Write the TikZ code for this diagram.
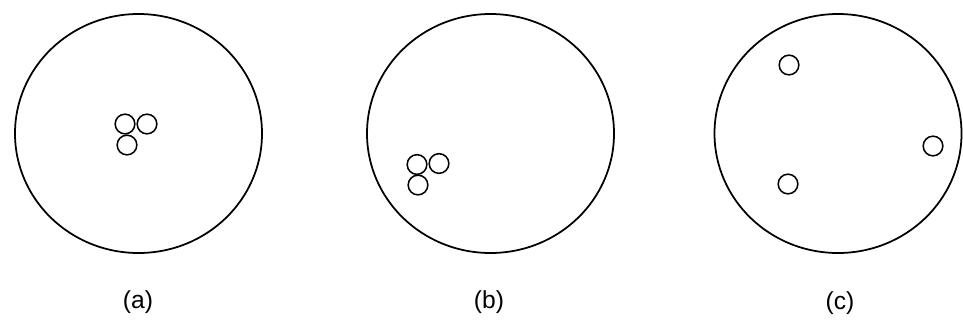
\documentclass[tikz,border=0pt]{standalone}
\usepackage{fontspec}
\setmainfont{Liberation Sans}
\usetikzlibrary{positioning, shapes.geometric}
\tikzset{
    dish/.style={ellipse, draw, line width=1.5pt, minimum width=74.1mm, minimum height=71.7mm, inner sep=0pt},
    bead/.style={circle, draw, line width=1.3pt, minimum size=5.9mm, inner sep=0pt},
    caption/.style={font=\fontsize{21}{24}\selectfont, inner sep=0pt}
}

\begin{document}
\begin{tikzpicture}[x=0.3mm, y=-0.3mm]
    \useasboundingbox (0,0) rectangle (963,324);

    % the three dishes
    \node[dish] (dishA) at (138.5,133.5) {};
    \node[dish] (dishB) at (490.5,133.5) {};
    \node[dish] (dishC) at (838,133.5) {};

    % (a) cluster in the middle
    \node[bead] (a1) at (125,124) {};
    \node[bead] (a2) at (147,124) {};
    \node[bead] (a3) at (127,145) {};

    % (b) cluster near the wall
    \node[bead] (b1) at (417,164.5) {};
    \node[bead] (b2) at (439,163.5) {};
    \node[bead] (b3) at (418,185) {};

    % (c) spread out
    \node[bead] (c1) at (789,65) {};
    \node[bead] (c2) at (933,146) {};
    \node[bead] (c3) at (788,184) {};

    \node[caption] (capA) at (138,302) {(a)};
    \node[caption] (capB) at (489,302) {(b)};
    \node[caption] (capC) at (840,303) {(c)};
\end{tikzpicture}
\end{document}
